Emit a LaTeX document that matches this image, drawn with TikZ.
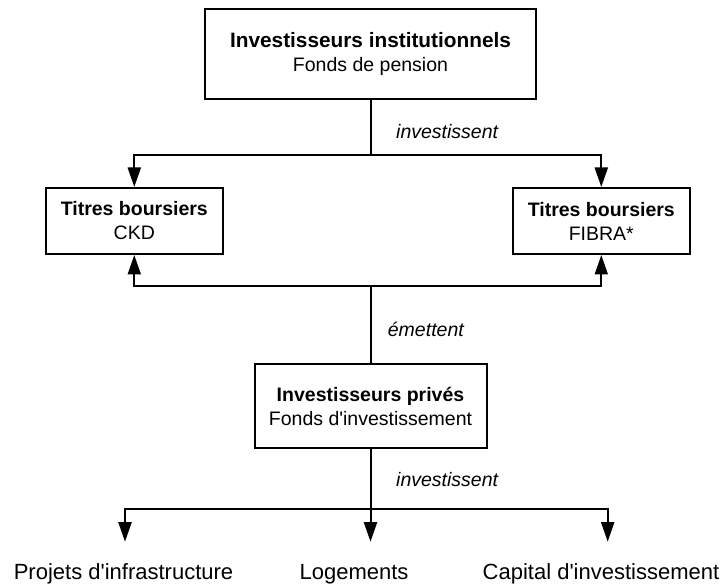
\documentclass[tikz,border=0pt]{standalone}
\usepackage{fontspec}
\setmainfont{Liberation Sans}
\usetikzlibrary{arrows.meta}
\begin{document}
\begin{tikzpicture}[x=1pt,y=-1pt,
  box/.style={draw=black,line width=2pt,align=center,inner sep=0pt,font=\fontsize{19.5}{24}\selectfont},
  arr/.style={line width=2pt,-{Triangle[length=19.5pt,width=13pt]}},
  ln/.style={line width=2pt},
  lbl/.style={anchor=west,inner sep=0pt,font=\fontsize{19.5}{24}\selectfont\itshape},
  leaf/.style={anchor=base,inner sep=0pt,text height=16pt,text depth=5pt,font=\fontsize{22}{26}\selectfont}
]
\useasboundingbox (0,0) rectangle (723,585);
\node[box,minimum width=331pt,minimum height=90pt] (top) at (370.5,54)
  {{\fontsize{20.8}{24}\selectfont\bfseries Investisseurs institutionnels}\\Fonds de pension};
\node[box,minimum width=177pt,minimum height=66pt] (ckd) at (134.3,221)
  {\textbf{Titres boursiers}\\CKD};
\node[box,minimum width=177pt,minimum height=66pt] (fibra) at (601.3,221)
  {\textbf{Titres boursiers}\\FIBRA*};
\node[box,minimum width=232pt,minimum height=84pt] (mid) at (370.5,406)
  {\textbf{Investisseurs privés}\\Fonds d\textquotesingle investissement};

\coordinate (j1) at (370.5,155);
\coordinate (j2) at (370.5,286);
\coordinate (j3) at (370.5,509);

\draw[ln] (top.south) -- (j1);
\draw[arr] (j1) -| (ckd.north);
\draw[arr] (j1) -| (fibra.north);
\node[lbl] (l1) at (396,132) {investissent};

\draw[ln] (mid.north) -- (j2);
\draw[arr] (j2) -| (ckd.south);
\draw[arr] (j2) -| (fibra.south);
\node[lbl] (l2) at (387.7,329) {émettent};

\node[leaf] (p) at (123.5,579.6) {Projets d\textquotesingle infrastructure};
\node[leaf] (lg) at (354,579.6) {Logements};
\node[leaf] (c) at (601,579.6) {Capital d\textquotesingle investissement};
\coordinate (tp) at (125,541.7);
\coordinate (tl) at (370.5,541.7);
\coordinate (tc) at (607.7,541.7);

\draw[ln] (mid.south) -- (j3);
\draw[arr] (j3) -| (tp);
\draw[arr] (j3) -- (tl);
\draw[arr] (j3) -| (tc);
\node[lbl] (l3) at (396,480) {investissent};
\end{tikzpicture}
\end{document}
